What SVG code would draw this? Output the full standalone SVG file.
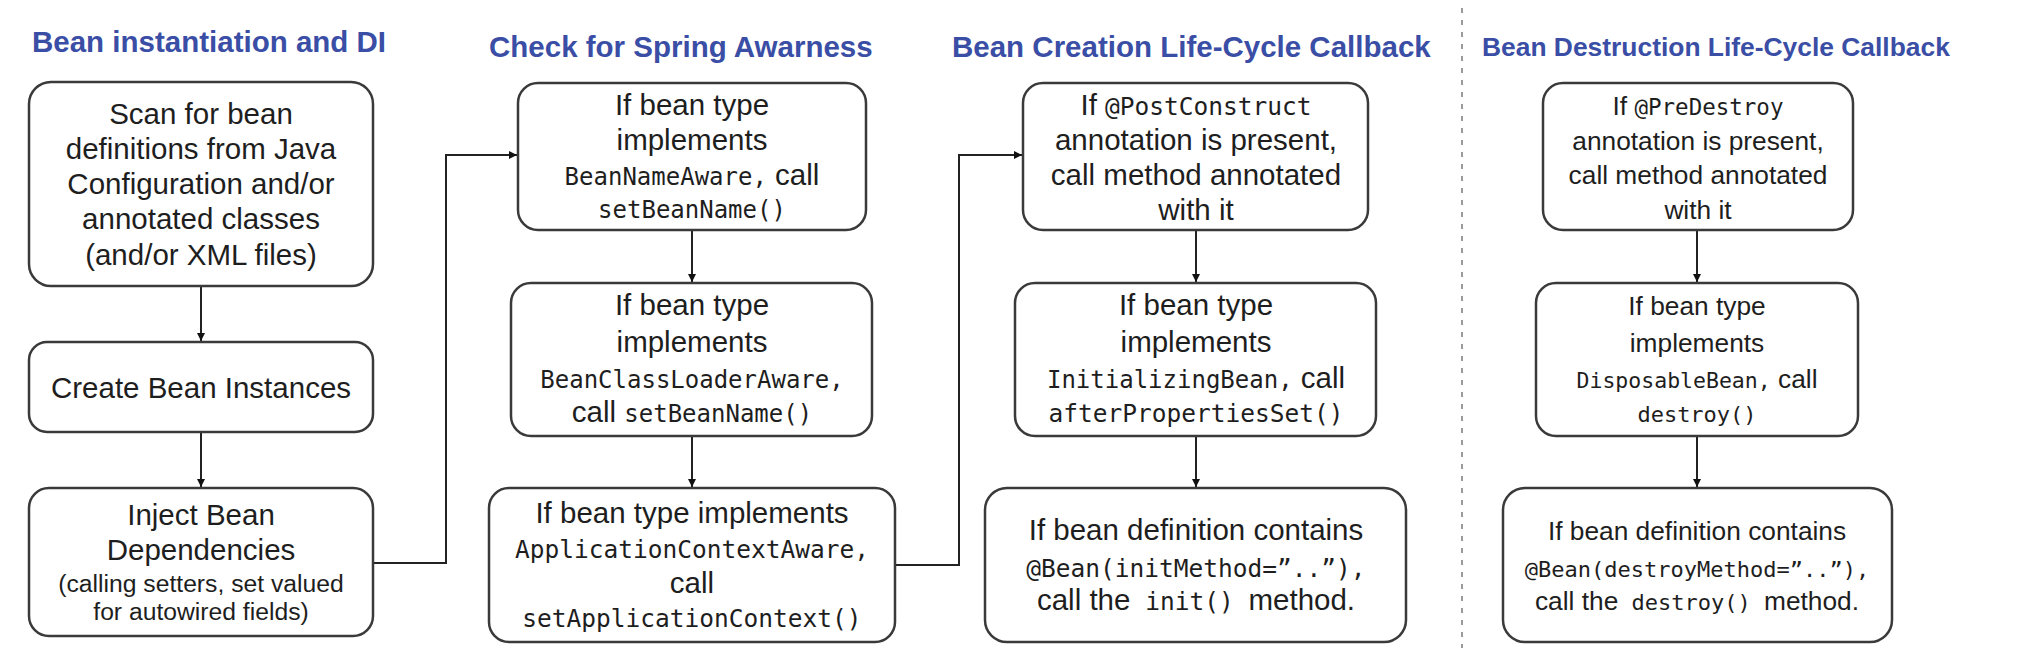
<svg xmlns="http://www.w3.org/2000/svg" width="2036" height="670" viewBox="0 0 2036 670">
<style>
.title{font-family:"Liberation Sans",Arial,sans-serif;font-weight:bold;fill:#3a4ea6;font-size:29.5px}
.box{fill:#fff;stroke:#3a3a3a;stroke-width:2.5}
.t{font-family:"Liberation Sans",Arial,sans-serif;font-size:29.5px;fill:#1e1e1e;text-anchor:middle}
.td{font-size:26.3px}
.s{font-size:24.7px}
.m{font-family:"DejaVu Sans Mono","Liberation Mono",monospace;font-size:24px}
.m22{font-size:22px}
.conn{fill:none;stroke:#222;stroke-width:2}
</style>
<defs>
<marker id="ah" markerUnits="userSpaceOnUse" markerWidth="9" markerHeight="9" refX="8" refY="4.5" orient="auto">
<path d="M0,0.5 L8,4.5 L0,8.5 z" fill="#111"/>
</marker>
</defs>
<rect width="2036" height="670" fill="#fff"/>

<g id="titles">
<text class="title" x="32" y="52">Bean instantiation and DI</text>
<text class="title" x="489" y="57">Check for Spring Awarness</text>
<text class="title" x="952" y="57">Bean Creation Life-Cycle Callback</text>
<text class="title" x="1482" y="56" style="font-size:26.4px">Bean Destruction Life-Cycle Callback</text>
</g>

<line id="divider" x1="1462" y1="8" x2="1462" y2="648" stroke="#9a9a9a" stroke-width="2" stroke-dasharray="5 7"/>

<g id="connectors">
<path class="conn" d="M201,286 V341" marker-end="url(#ah)"/>
<path class="conn" d="M201,432 V487" marker-end="url(#ah)"/>
<path class="conn" d="M373,563 H446 V155 H517" marker-end="url(#ah)"/>
<path class="conn" d="M692,230 V282" marker-end="url(#ah)"/>
<path class="conn" d="M692,436 V487" marker-end="url(#ah)"/>
<path class="conn" d="M895,565 H959 V155 H1022" marker-end="url(#ah)"/>
<path class="conn" d="M1196,230 V282" marker-end="url(#ah)"/>
<path class="conn" d="M1196,436 V487" marker-end="url(#ah)"/>
<path class="conn" d="M1697,230 V282" marker-end="url(#ah)"/>
<path class="conn" d="M1697,436 V487" marker-end="url(#ah)"/>
</g>

<g id="n1">
<rect class="box" x="29" y="82" width="344" height="204" rx="22"/>
<text class="t" x="201" y="124">Scan for bean</text>
<text class="t" x="201" y="159">definitions from Java</text>
<text class="t" x="201" y="194">Configuration and/or</text>
<text class="t" x="201" y="229">annotated classes</text>
<text class="t" x="201" y="265">(and/or XML files)</text>
</g>

<g id="n2">
<rect class="box" x="29" y="342" width="344" height="90" rx="18"/>
<text class="t" x="201" y="398">Create Bean Instances</text>
</g>

<g id="n3">
<rect class="box" x="29" y="488" width="344" height="148" rx="20"/>
<text class="t" x="201" y="525">Inject Bean</text>
<text class="t" x="201" y="560">Dependencies</text>
<text class="t s" x="201" y="592">(calling setters, set valued</text>
<text class="t s" x="201" y="620">for autowired fields)</text>
</g>

<g id="n4">
<rect class="box" x="518" y="83" width="348" height="147" rx="20"/>
<text class="t" x="692" y="115">If bean type</text>
<text class="t" x="692" y="150">implements</text>
<text class="t" x="692" y="185"><tspan class="m">BeanNameAware,</tspan> call</text>
<text class="t m" x="692" y="218">setBeanName()</text>
</g>

<g id="n5">
<rect class="box" x="511" y="283" width="361" height="153" rx="20"/>
<text class="t" x="692" y="315">If bean type</text>
<text class="t" x="692" y="352">implements</text>
<text class="t m" x="692" y="388">BeanClassLoaderAware,</text>
<text class="t" x="692" y="422">call <tspan class="m">setBeanName()</tspan></text>
</g>

<g id="n6">
<rect class="box" x="489" y="488" width="406" height="154" rx="20"/>
<text class="t" x="692" y="523">If bean type implements</text>
<text class="t m" x="692" y="558" style="font-size:24.5px">ApplicationContextAware,</text>
<text class="t" x="692" y="593">call</text>
<text class="t m" x="692" y="627" style="font-size:24.5px">setApplicationContext()</text>
</g>

<g id="n7">
<rect class="box" x="1023" y="83" width="345" height="147" rx="20"/>
<text class="t" x="1196" y="115">If <tspan class="m" style="font-size:24.5px">@PostConstruct</tspan></text>
<text class="t" x="1196" y="150">annotation is present,</text>
<text class="t" x="1196" y="185">call method annotated</text>
<text class="t" x="1196" y="220">with it</text>
</g>

<g id="n8">
<rect class="box" x="1015" y="283" width="361" height="153" rx="20"/>
<text class="t" x="1196" y="315">If bean type</text>
<text class="t" x="1196" y="352">implements</text>
<text class="t" x="1196" y="388"><tspan class="m">InitializingBean,</tspan> call</text>
<text class="t m" x="1196" y="422" style="font-size:24.5px">afterPropertiesSet()</text>
</g>

<g id="n9">
<rect class="box" x="985" y="488" width="421" height="154" rx="22"/>
<text class="t" x="1196" y="540">If bean definition contains</text>
<text class="t m" x="1196" y="577" style="font-size:24.5px">@Bean(initMethod=”..”),</text>
<text class="t" x="1196" y="610" xml:space="preserve">call the<tspan class="m" style="font-size:24.5px"> init() </tspan>method.</text>
</g>

<g id="n10">
<rect class="box" x="1543" y="83" width="310" height="147" rx="20"/>
<text class="t td" x="1698" y="115">If <tspan class="m" style="font-size:22.5px">@PreDestroy</tspan></text>
<text class="t td" x="1698" y="150">annotation is present,</text>
<text class="t td" x="1698" y="184">call method annotated</text>
<text class="t td" x="1698" y="219">with it</text>
</g>

<g id="n11">
<rect class="box" x="1536" y="283" width="322" height="153" rx="20"/>
<text class="t td" x="1697" y="315">If bean type</text>
<text class="t td" x="1697" y="352">implements</text>
<text class="t td" x="1697" y="388"><tspan class="m" style="font-size:21.5px">DisposableBean,</tspan> call</text>
<text class="t m" x="1697" y="422" style="font-size:22px">destroy()</text>
</g>

<g id="n12">
<rect class="box" x="1503" y="488" width="389" height="154" rx="22"/>
<text class="t td" x="1697" y="540">If bean definition contains</text>
<text class="t m" x="1697" y="577" style="font-size:22px">@Bean(destroyMethod=”..”),</text>
<text class="t td" x="1697" y="610" xml:space="preserve">call the<tspan class="m" style="font-size:22px"> destroy() </tspan>method.</text>
</g>
</svg>
